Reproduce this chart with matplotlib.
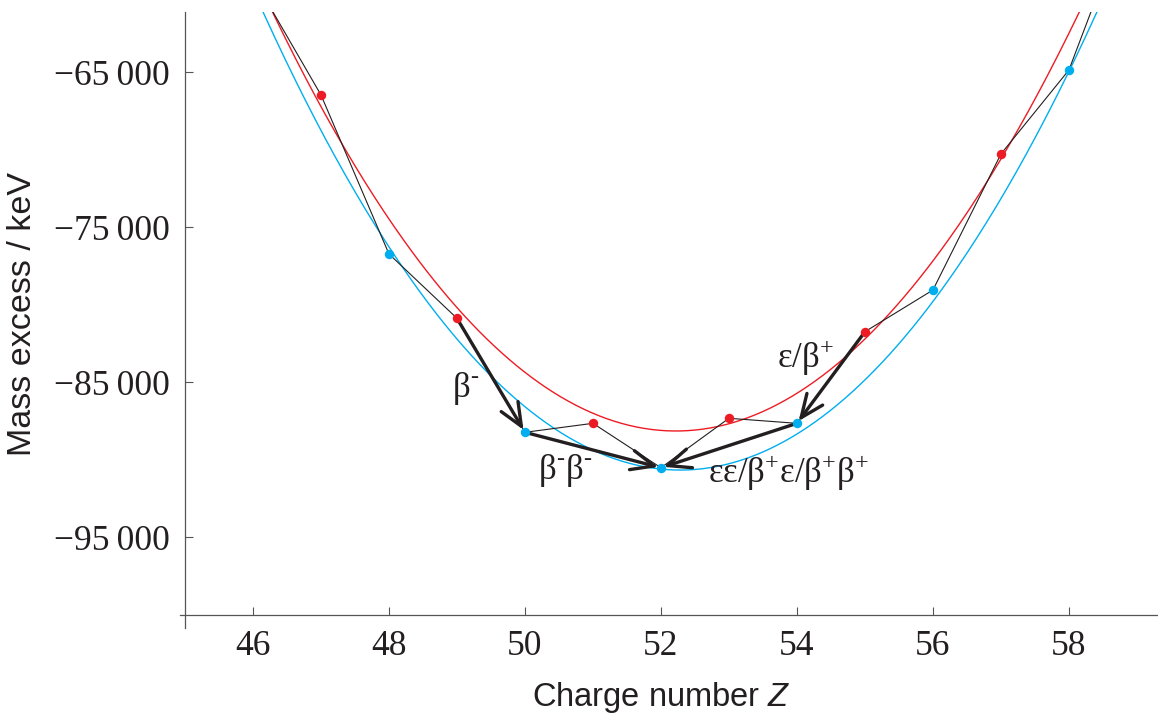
import numpy as np
import matplotlib
matplotlib.use('Agg')
import matplotlib.pyplot as plt
import matplotlib.ticker as ticker


#--------- data ---------
Z = [46, 47, 48, 49, 50, 51, 52, 53, 54, 55, 56, 57, 58, 59]
mass_excess = [-58900, -66480, -76740, -80890, -88245, -87665, -90530,
               -87340, -87665, -81755, -79065, -70290, -64870, -53300]   # keV

# parabola parameters: vertex Z, vertex value / keV, curvature / keV
odd_par = [52.22, -88160, 768]
even_par = [52.28, -90680, 786]

# decay arrows (from Z, to Z) and labels
arrows_thick = [(49, 50), (55, 54), (50, 52), (54, 52)]
labels = [r'$\mathrm{\beta}^{\text{-}}$', r'$\mathrm{\varepsilon/\beta}^{\text{+}}$',
          r'$\mathrm{\beta}^{\text{-}}\mathrm{\beta}^{\text{-}}$',
          r'$\mathrm{\varepsilon\varepsilon/\beta}^{\text{+}}\mathrm{\varepsilon/\beta}^{\text{+}}\mathrm{\beta}^{\text{+}}$']
label_pos = [(49.12, -85390), (54.12, -83400), (50.59, -90680), (53.87, -90870)]

x_ticks = [46, 48, 50, 52, 54, 56, 58]
y_ticks = [-95000, -85000, -75000, -65000]

#--------- style ---------
RED = '#ed1c24'
BLUE = '#00aeef'
INK = '#231f20'

plt.rcParams['mathtext.fontset'] = 'custom'
plt.rcParams['mathtext.rm'] = 'Liberation Serif'
plt.rcParams['mathtext.it'] = 'Liberation Sans:italic'


def parabola(z_, par_):
    return par_[1] + par_[2]*(z_ - par_[0])**2

def fmt_y(v_, pos_):
    s = '{:,.0f}'.format(abs(v_)).replace(',', '\u2009')
    return ('\u2212' if v_ < 0 else '') + s


z_arr = np.array(Z)
m_arr = np.array(mass_excess)
odd = z_arr % 2 == 1
even = ~odd

fig = plt.figure(figsize=(11.58, 7.16), dpi=100)
ax = fig.add_axes([0.1554, 0.1229, 0.8446, 0.8603])

zz = np.linspace(44.9, 59.5, 400)
ax.plot(zz, parabola(zz, odd_par), color=RED, lw=1.0, zorder=2)
ax.plot(zz, parabola(zz, even_par), color=BLUE, lw=1.0, zorder=2)
ax.plot(z_arr, m_arr, color=INK, lw=0.8, zorder=3)

val = dict(zip(Z, mass_excess))
for a, b in arrows_thick:
    ax.annotate('', xy=(b, val[b]), xytext=(a, val[a]),
                arrowprops=dict(arrowstyle='->,head_length=0.75,head_width=0.32',
                                lw=2.4, color=INK, shrinkA=2, shrinkB=2,
                                mutation_scale=22),
                zorder=4)

ax.plot(z_arr[odd], m_arr[odd], 'o', color=RED, ms=6.8, mec='none', zorder=5)
ax.plot(z_arr[even], m_arr[even], 'o', color=BLUE, ms=6.8, mec='none', zorder=5)

for txt, (x, y) in zip(labels, label_pos):
    ax.text(x, y, txt, fontsize=25, ha='center', va='center', color=INK, zorder=6)

# axes
ax.set_xlim(44.926, 59.31)
ax.set_ylim(-100870, -61130)
for s in ['top', 'right']:
    ax.spines[s].set_visible(False)
ax.spines['bottom'].set_position(('data', -100000))
ax.spines['left'].set_position(('data', 45))
for s in ['bottom', 'left']:
    ax.spines[s].set_color('#555555')
    ax.spines[s].set_linewidth(0.9)

ax.set_xticks(x_ticks)
ax.set_yticks(y_ticks)
ax.yaxis.set_major_formatter(ticker.FuncFormatter(fmt_y))
ax.tick_params(direction='in', length=5.5, width=0.8, color='#555555',
               labelsize=25.5, labelcolor=INK, pad=11)
for lab in ax.get_xticklabels() + ax.get_yticklabels():
    lab.set_fontfamily('Liberation Serif')

ax.set_xlabel(r'Charge number $Z$', fontsize=23.5, color=INK,
              fontfamily='Liberation Sans')
ax.set_ylabel('Mass excess / keV', fontsize=24.5, color=INK,
              fontfamily='Liberation Sans')
ax.xaxis.set_label_coords(0.492, -0.084)
ax.yaxis.set_label_coords(-0.145, 0.51)

fig.savefig('out.png', dpi=100)
